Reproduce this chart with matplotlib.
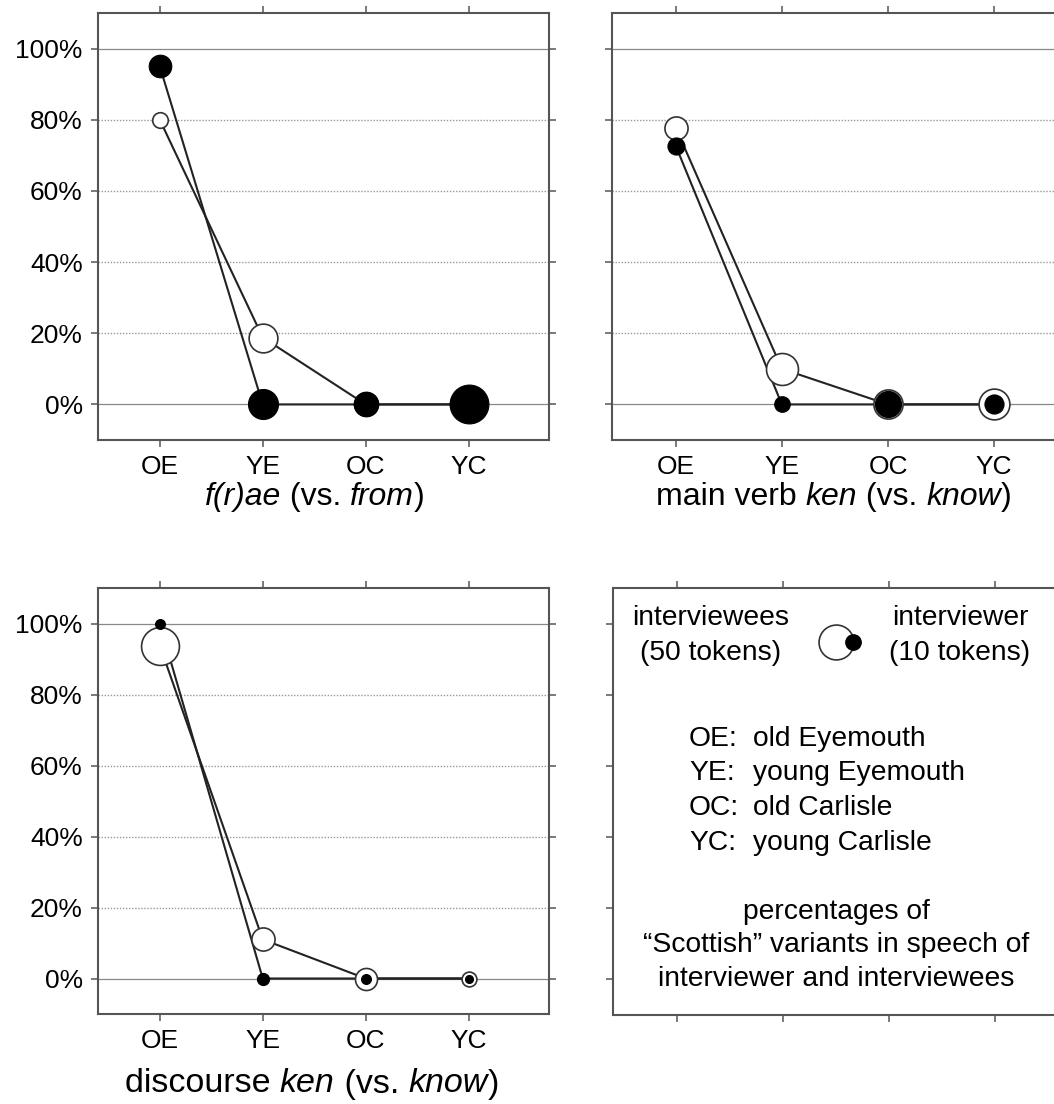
import numpy as np
import matplotlib
matplotlib.use("Agg")
import matplotlib.pyplot as plt
import matplotlib.transforms as mtransforms

plt.rcParams["font.family"] = ["Liberation Sans", "DejaVu Sans"]

# data: percentage of "Scottish" variants, and token counts (marker area)
groups = ["OE", "YE", "OC", "YC"]
yticks = [0, 20, 40, 60, 80, 100]

frae_ees_pct = [80, 18.8, 0, 0]
frae_ees_tok = [10, 34, 22, 22]
frae_er_pct = [95, 0, 0, 0]
frae_er_tok = [21, 37, 25, 62]

mverb_ees_pct = [77.8, 10, 0, 0]
mverb_ees_tok = [22, 42, 35, 39]
mverb_er_pct = [72.7, 0, 0, 0]
mverb_er_tok = [12, 10, 28, 15]

disc_ees_pct = [93.8, 11, 0, 0]
disc_ees_tok = [59, 22, 20, 9]
disc_er_pct = [100, 0, 0, 0]
disc_er_tok = [4, 6, 4, 2.6]

# (text, italic) pieces of each panel caption
titles = [[("f(r)ae", True), (" (vs. ", False), ("from", True), (")", False)],
          [("main verb ", False), ("ken", True), (" (vs. ", False), ("know", True), (")", False)],
          [("discourse ", False), ("ken", True), (" (vs. ", False), ("know", True), (")", False)]]

W, H = 1054, 1104
fig = plt.figure(figsize=(W / 100, H / 100), dpi=100)
renderer = fig.canvas.get_renderer()


def box(l, t, r, b):
    return [l / W, 1 - b / H, (r - l) / W, (b - t) / H]


def ms(tok):
    # marker diameter in points, area proportional to tokens
    return 3.55 * np.sqrt(tok)


def frame(ax, labels=True, ylabels=True):
    ax.set_xlim(-0.6, 3.78)
    ax.set_ylim(-10, 110)
    ax.set_xticks(range(len(groups)))
    ax.set_yticks(yticks)
    ax.set_xticklabels(groups if labels else [])
    ax.set_yticklabels([f"{v}%" for v in yticks] if ylabels else [])
    ax.tick_params(top=True, right=True, direction="out", length=5, width=1.1,
                   color="#555555", labelsize=19, pad=6)
    for s in ax.spines.values():
        s.set_color("#555555")
        s.set_linewidth(1.5)


def caption(cx, cy, pieces, size):
    # lay out mixed upright / italic pieces centred on (cx, cy) in pixels
    texts = [fig.text(0, 1 - cy / H, s, fontsize=size, va="center",
                      style="italic" if it else "normal") for s, it in pieces]
    widths = [t.get_window_extent(renderer).width for t in texts]
    x = cx - sum(widths) / 2
    for t, w in zip(texts, widths):
        t.set_x(x / W)
        x += w


def panel(ax, ees_pct, ees_tok, er_pct, er_tok, ylabels):
    frame(ax, ylabels=ylabels)
    for v in yticks:
        if v in (0, 100):
            ax.axhline(v, color="#888888", lw=0.9, zorder=1)
        else:
            ax.axhline(v, color="#999999", lw=1.0, ls=(0, (1, 1.2)), zorder=1)
    x = np.arange(len(groups))
    ax.plot(x, er_pct, color="#222222", lw=1.5, zorder=2)
    ax.plot(x, ees_pct, color="#222222", lw=1.5, zorder=2)
    for xi, v, t in zip(x, ees_pct, ees_tok):
        ax.plot(xi, v, "o", ms=ms(t), mfc="white", mec="#333333", mew=1.2,
                zorder=3, clip_on=False)
    for xi, v, t in zip(x, er_pct, er_tok):
        ax.plot(xi, v, "o", ms=ms(t), mfc="black", mec="black", mew=0.8,
                zorder=4, clip_on=False)


ax1 = fig.add_axes(box(98, 13, 549, 440))
panel(ax1, frae_ees_pct, frae_ees_tok, frae_er_pct, frae_er_tok, True)
caption(315, 497, titles[0], 23)

ax2 = fig.add_axes(box(612, 13, 1077, 440))
panel(ax2, mverb_ees_pct, mverb_ees_tok, mverb_er_pct, mverb_er_tok, False)
caption(834, 497, titles[1], 23)

ax3 = fig.add_axes(box(98, 588, 549, 1014))
panel(ax3, disc_ees_pct, disc_ees_tok, disc_er_pct, disc_er_tok, True)
caption(312, 1084, titles[2], 24.5)

# key panel
ax4 = fig.add_axes(box(613, 588, 1078, 1015))
frame(ax4, labels=False, ylabels=False)


def ftext(x, y, s, **kw):
    fig.text(x / W, 1 - y / H, s, fontsize=20.3, va="center", **kw)


ftext(711, 618, "interviewees", ha="center")
ftext(711, 653, "(50 tokens)", ha="center")
ftext(960, 618, "interviewer", ha="center")
ftext(960, 653, "(10 tokens)", ha="center")
fig.lines.append(plt.Line2D([836 / W], [1 - 642 / H], marker="o", ms=ms(50), mfc="white",
                            mec="#333333", mew=1.2, transform=fig.transFigure, figure=fig))
fig.lines.append(plt.Line2D([853 / W], [1 - 642 / H], marker="o", ms=ms(10), mfc="black",
                            mec="black", mew=0.8, transform=fig.transFigure, figure=fig))

names = ["old Eyemouth", "young Eyemouth", "old Carlisle", "young Carlisle"]
for i, (g, n) in enumerate(zip(groups, names)):
    y = 739 + i * 34.5
    ftext(689, y, g + ":", ha="left")
    ftext(753, y, n, ha="left")

ftext(836, 912, "percentages of", ha="center")
ftext(836, 945, "\u201cScottish\u201d variants in speech of", ha="center")
ftext(836, 979, "interviewer and interviewees", ha="center")

fig.savefig("out.png", dpi=100)
